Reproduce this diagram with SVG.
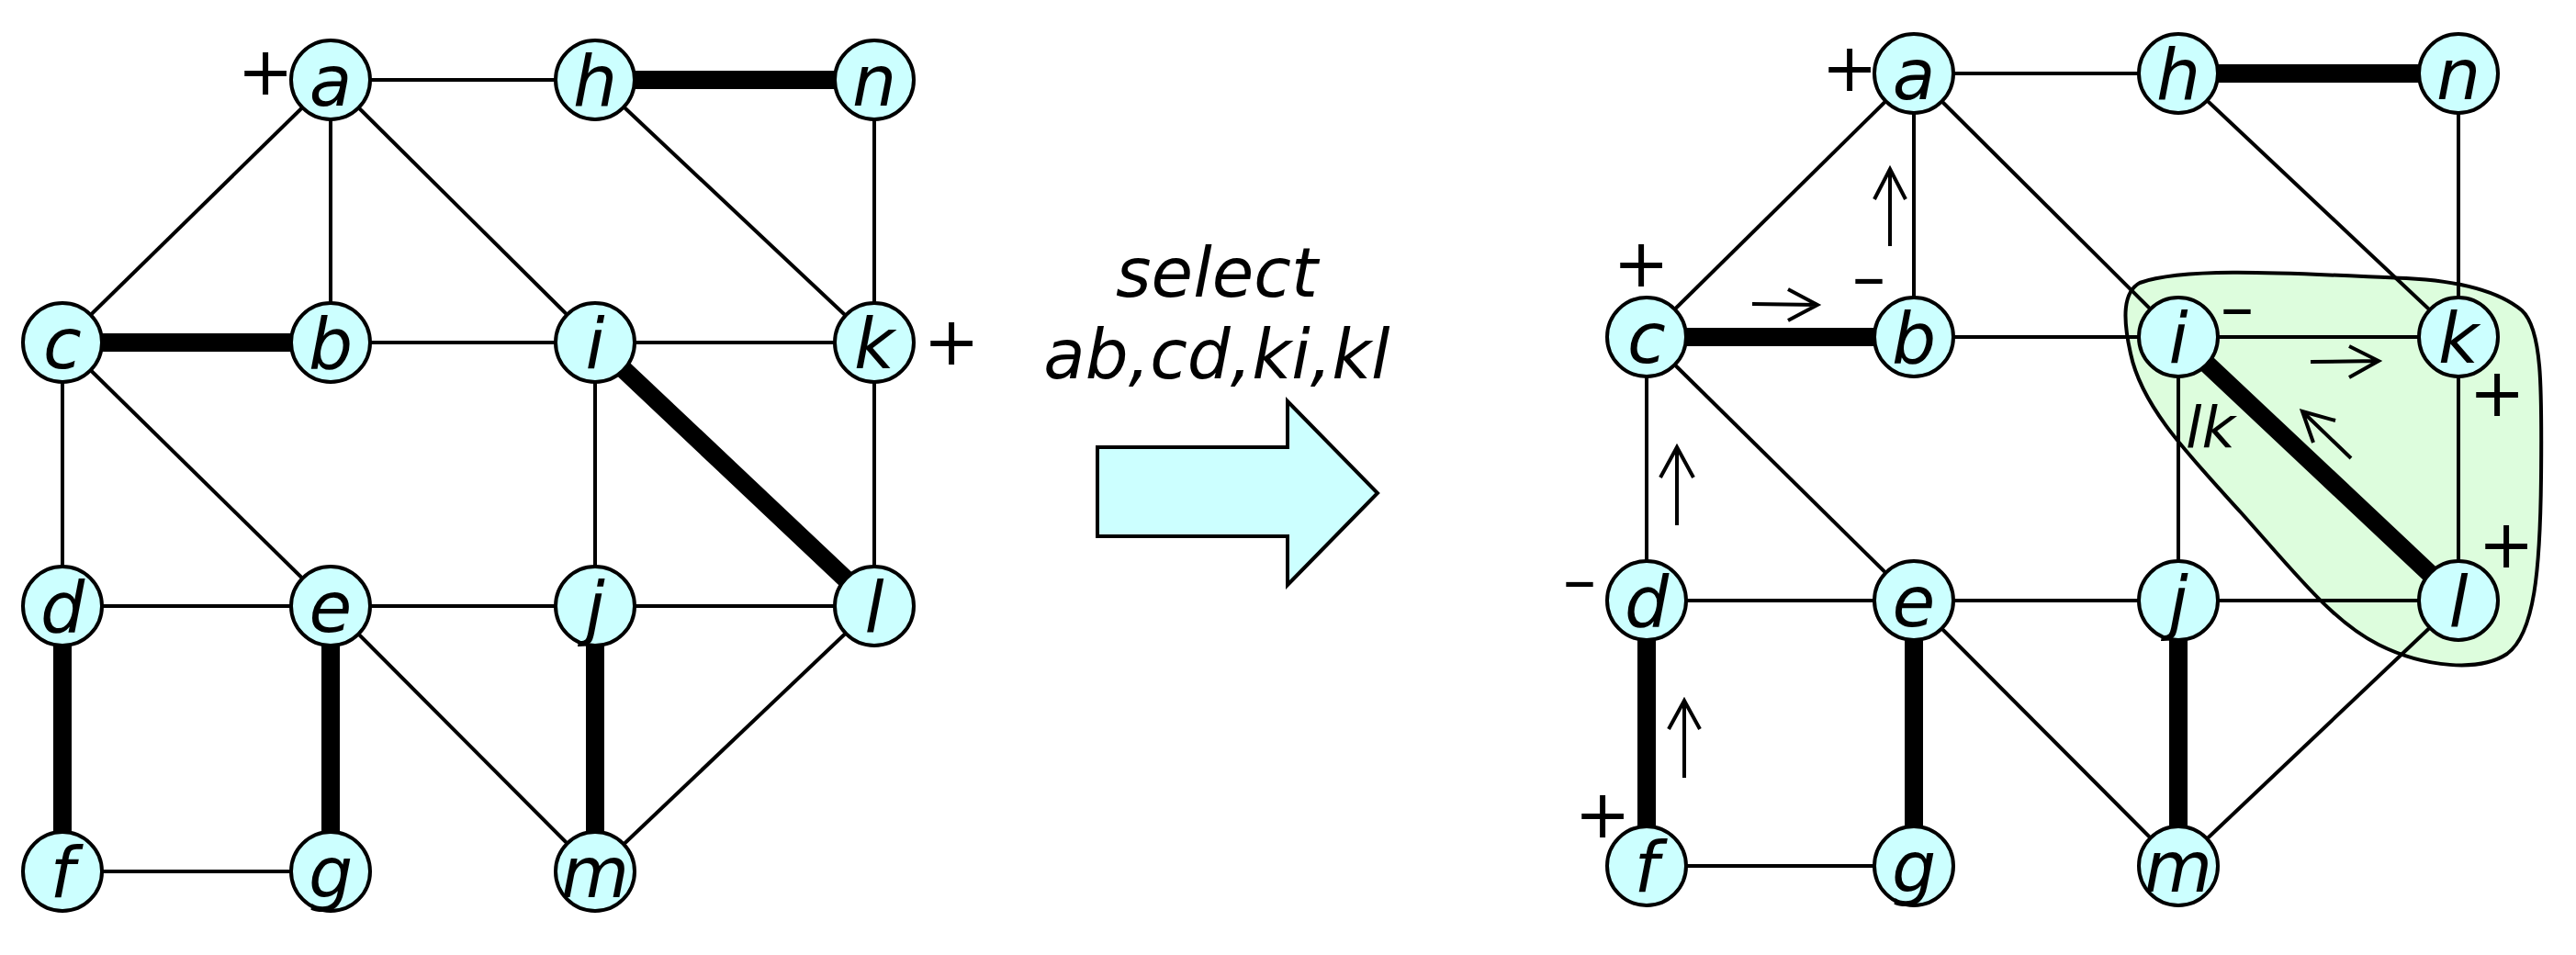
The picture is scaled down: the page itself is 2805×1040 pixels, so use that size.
<svg xmlns="http://www.w3.org/2000/svg" width="2805" height="1040" viewBox="0 0 2805 1040">
<style>
.thin{stroke:#000;stroke-width:4;fill:none}
.thick{stroke:#000;stroke-width:20;fill:none}
.node circle{fill:#ccffff;stroke:#000;stroke-width:4}
.lbl{font-family:"DejaVu Sans",Verdana,sans-serif;font-style:italic;font-size:76px;text-anchor:middle;fill:#000}
.sign{font-family:"DejaVu Sans",Verdana,sans-serif;font-size:73px;text-anchor:middle;fill:#000}
.cap{font-family:"DejaVu Sans",Verdana,sans-serif;font-style:italic;font-size:74px;text-anchor:middle;fill:#000}
.arr{stroke:#000;stroke-width:4;fill:none;stroke-linecap:butt;stroke-linejoin:miter}
</style>
<rect width="2805" height="1040" fill="#fff"/>
<!-- highlighted region -->
<path id="blob" d="M2330,308 C2380,290 2500,298 2620,303 C2680,306 2722,318 2746,338 C2768,358 2768,420 2767,520 C2766,620 2760,690 2730,712 C2700,732 2640,727 2590,702 C2540,677 2500,625 2440,558 C2380,492 2332,442 2320,385 C2311,345 2312,318 2330,308 Z" fill="#ddfddd" stroke="#000" stroke-width="4"/>
<g id="connectors">
<!-- left graph -->
<line class="thin" x1="360" y1="87" x2="648" y2="87"/>
<line class="thick" x1="648" y1="87" x2="952" y2="87"/>
<line class="thin" x1="360" y1="87" x2="68" y2="373"/>
<line class="thin" x1="360" y1="87" x2="360" y2="373"/>
<line class="thin" x1="360" y1="87" x2="648" y2="373"/>
<line class="thin" x1="648" y1="87" x2="952" y2="373"/>
<line class="thin" x1="952" y1="87" x2="952" y2="373"/>
<line class="thick" x1="68" y1="373" x2="360" y2="373"/>
<line class="thin" x1="360" y1="373" x2="648" y2="373"/>
<line class="thin" x1="648" y1="373" x2="952" y2="373"/>
<line class="thin" x1="68" y1="373" x2="68" y2="660"/>
<line class="thin" x1="68" y1="373" x2="360" y2="660"/>
<line class="thin" x1="648" y1="373" x2="648" y2="660"/>
<line class="thick" x1="648" y1="373" x2="952" y2="660"/>
<line class="thin" x1="952" y1="373" x2="952" y2="660"/>
<line class="thin" x1="68" y1="660" x2="360" y2="660"/>
<line class="thin" x1="360" y1="660" x2="648" y2="660"/>
<line class="thin" x1="648" y1="660" x2="952" y2="660"/>
<line class="thick" x1="68" y1="660" x2="68" y2="949"/>
<line class="thick" x1="360" y1="660" x2="360" y2="949"/>
<line class="thin" x1="360" y1="660" x2="648" y2="949"/>
<line class="thick" x1="648" y1="660" x2="648" y2="949"/>
<line class="thin" x1="952" y1="660" x2="648" y2="949"/>
<line class="thin" x1="68" y1="949" x2="360" y2="949"/>
<!-- right graph -->
<line class="thin" x1="2084" y1="80" x2="2372" y2="80"/>
<line class="thick" x1="2372" y1="80" x2="2677" y2="80"/>
<line class="thin" x1="2084" y1="80" x2="1793" y2="367"/>
<line class="thin" x1="2084" y1="80" x2="2084" y2="367"/>
<line class="thin" x1="2084" y1="80" x2="2372" y2="367"/>
<line class="thin" x1="2372" y1="80" x2="2677" y2="367"/>
<line class="thin" x1="2677" y1="80" x2="2677" y2="367"/>
<line class="thick" x1="1793" y1="367" x2="2084" y2="367"/>
<line class="thin" x1="2084" y1="367" x2="2372" y2="367"/>
<line class="thin" x1="2372" y1="367" x2="2677" y2="367"/>
<line class="thin" x1="1793" y1="367" x2="1793" y2="654"/>
<line class="thin" x1="1793" y1="367" x2="2084" y2="654"/>
<line class="thin" x1="2372" y1="367" x2="2372" y2="654"/>
<line class="thick" x1="2372" y1="367" x2="2677" y2="654"/>
<line class="thin" x1="2677" y1="367" x2="2677" y2="654"/>
<line class="thin" x1="1793" y1="654" x2="2084" y2="654"/>
<line class="thin" x1="2084" y1="654" x2="2372" y2="654"/>
<line class="thin" x1="2372" y1="654" x2="2677" y2="654"/>
<line class="thick" x1="1793" y1="654" x2="1793" y2="943"/>
<line class="thick" x1="2084" y1="654" x2="2084" y2="943"/>
<line class="thin" x1="2084" y1="654" x2="2372" y2="943"/>
<line class="thick" x1="2372" y1="654" x2="2372" y2="943"/>
<line class="thin" x1="2677" y1="654" x2="2372" y2="943"/>
<line class="thin" x1="1793" y1="943" x2="2084" y2="943"/>
</g>
<!-- left nodes -->
<g id="L-a" class="node"><circle cx="360" cy="87" r="43"/><text class="lbl" x="360" y="115">a</text></g>
<g id="L-h" class="node"><circle cx="648" cy="87" r="43"/><text class="lbl" x="648" y="115">h</text></g>
<g id="L-n" class="node"><circle cx="952" cy="87" r="43"/><text class="lbl" x="952" y="115">n</text></g>
<g id="L-c" class="node"><circle cx="68" cy="373" r="43"/><text class="lbl" x="68" y="401">c</text></g>
<g id="L-b" class="node"><circle cx="360" cy="373" r="43"/><text class="lbl" x="360" y="401">b</text></g>
<g id="L-i" class="node"><circle cx="648" cy="373" r="43"/><text class="lbl" x="648" y="401">i</text></g>
<g id="L-k" class="node"><circle cx="952" cy="373" r="43"/><text class="lbl" x="952" y="401">k</text></g>
<g id="L-d" class="node"><circle cx="68" cy="660" r="43"/><text class="lbl" x="68" y="688">d</text></g>
<g id="L-e" class="node"><circle cx="360" cy="660" r="43"/><text class="lbl" x="360" y="688">e</text></g>
<g id="L-j" class="node"><circle cx="648" cy="660" r="43"/><text class="lbl" x="648" y="688">j</text></g>
<g id="L-l" class="node"><circle cx="952" cy="660" r="43"/><text class="lbl" x="952" y="688">l</text></g>
<g id="L-f" class="node"><circle cx="68" cy="949" r="43"/><text class="lbl" x="68" y="977">f</text></g>
<g id="L-g" class="node"><circle cx="360" cy="949" r="43"/><text class="lbl" x="360" y="977">g</text></g>
<g id="L-m" class="node"><circle cx="648" cy="949" r="43"/><text class="lbl" x="648" y="977">m</text></g>
<!-- right nodes -->
<g id="R-a" class="node"><circle cx="2084" cy="80" r="43"/><text class="lbl" x="2084" y="108">a</text></g>
<g id="R-h" class="node"><circle cx="2372" cy="80" r="43"/><text class="lbl" x="2372" y="108">h</text></g>
<g id="R-n" class="node"><circle cx="2677" cy="80" r="43"/><text class="lbl" x="2677" y="108">n</text></g>
<g id="R-c" class="node"><circle cx="1793" cy="367" r="43"/><text class="lbl" x="1793" y="395">c</text></g>
<g id="R-b" class="node"><circle cx="2084" cy="367" r="43"/><text class="lbl" x="2084" y="395">b</text></g>
<g id="R-i" class="node"><circle cx="2372" cy="367" r="43"/><text class="lbl" x="2372" y="395">i</text></g>
<g id="R-k" class="node"><circle cx="2677" cy="367" r="43"/><text class="lbl" x="2677" y="395">k</text></g>
<g id="R-d" class="node"><circle cx="1793" cy="654" r="43"/><text class="lbl" x="1793" y="682">d</text></g>
<g id="R-e" class="node"><circle cx="2084" cy="654" r="43"/><text class="lbl" x="2084" y="682">e</text></g>
<g id="R-j" class="node"><circle cx="2372" cy="654" r="43"/><text class="lbl" x="2372" y="682">j</text></g>
<g id="R-l" class="node"><circle cx="2677" cy="654" r="43"/><text class="lbl" x="2677" y="682">l</text></g>
<g id="R-f" class="node"><circle cx="1793" cy="943" r="43"/><text class="lbl" x="1793" y="971">f</text></g>
<g id="R-g" class="node"><circle cx="2084" cy="943" r="43"/><text class="lbl" x="2084" y="971">g</text></g>
<g id="R-m" class="node"><circle cx="2372" cy="943" r="43"/><text class="lbl" x="2372" y="971">m</text></g>
<!-- signs -->
<g id="signs">
<text class="sign" x="289" y="103">+</text>
<text class="sign" x="1036" y="397">+</text>
<text class="sign" x="2014" y="99">+</text>
<text class="sign" x="1787" y="312">+</text>
<text class="sign" x="2719" y="453">+</text>
<text class="sign" x="2729" y="618">+</text>
<text class="sign" x="1745" y="912">+</text>
<text class="sign" x="2035" y="326">–</text>
<text class="sign" x="2436" y="359">–</text>
<text class="sign" x="1720" y="656">–</text>
</g>
<!-- direction arrows -->
<g id="dir-arrows" class="arr">
<path d="M2058,268 V184 M2041,217 L2058,184 L2075,217"/>
<path d="M1908,331 L1979,332 M1947,315 L1979,332 L1947,349"/>
<path d="M1826,572 V487 M1808,520 L1826,487 L1844,520"/>
<path d="M1834,847 V763 M1817,794 L1834,763 L1851,794"/>
<path d="M2516,394 L2590,393 M2558,377 L2590,393 L2558,411"/>
<path d="M2560,499 L2507,448 M2543,458 L2507,448 L2519,482"/>
</g>
<text id="lk" x="2380" y="487" font-family="DejaVu Sans, Verdana, sans-serif" font-style="italic" font-size="63">lk</text>
<!-- middle -->
<g id="transform">
<text class="cap" x="1325" y="323">select</text>
<text class="cap" x="1325" y="412">ab,cd,ki,kl</text>
<path d="M1195,487 H1402 V437 L1500,537 L1402,637 V584 H1195 Z" fill="#ccffff" stroke="#000" stroke-width="4"/>
</g>
</svg>
